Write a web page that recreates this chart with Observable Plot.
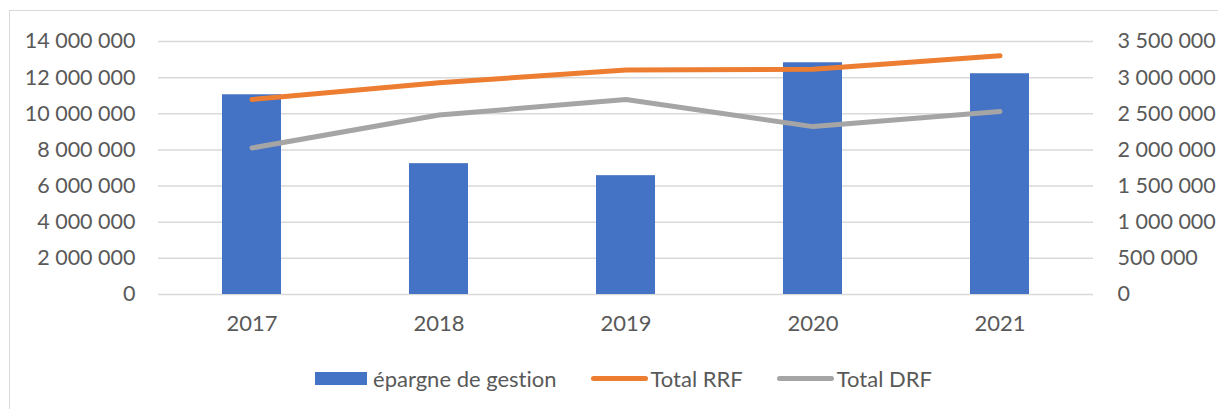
<!DOCTYPE html>
<html>
<head>
<meta charset="utf-8">
<script src="https://cdn.jsdelivr.net/npm/d3@7"></script>
<script src="https://cdn.jsdelivr.net/npm/@observablehq/plot@0.6"></script>
<style>
  html, body { margin: 0; padding: 0; background: #fff; overflow: hidden; width: 1218px; height: 409px; }
  #frame { position: absolute; left: 9px; top: 10px; width: 1400px; height: 600px; border: 1px solid #d9d9d9; pointer-events: none; }
  #chart svg { display: block; font-variant-ligatures: none; }
  #legend { display: flex; justify-content: center; align-items: center; height: 56px; padding-left: 29px; box-sizing: border-box; width: 1218px;
            font-family: Lato, "Open Sans", sans-serif; font-size: 22px; color: #595959; font-variant-ligatures: none; }
  .item { display: flex; align-items: center; margin: 0 17px; }
  .sw-bar { width: 52px; height: 13px; margin-right: 6px; }
  .sw-line { width: 57px; height: 5px; border-radius: 3px; margin-right: 3px; }
</style>
</head>
<body>
<div id="frame"></div>
<div id="chart"></div>
<div id="legend"></div>
<script>
// Data
const years = ["2017", "2018", "2019", "2020", "2021"];
const epargneGestion = [2763000, 1810000, 1644000, 3206000, 3054000]; // right axis
const totalRRF = [10790000, 11720000, 12420000, 12460000, 13210000];   // left axis
const totalDRF = [8110000, 9930000, 10790000, 9290000, 10130000];      // left axis
const leftTicks = [0, 2000000, 4000000, 6000000, 8000000, 10000000, 12000000, 14000000];
const rightTicks = [0, 500000, 1000000, 1500000, 2000000, 2500000, 3000000, 3500000];
const seriesNames = ["épargne de gestion", "Total RRF", "Total DRF"];
const colors = ["#4472C4", "#ED7D31", "#A5A5A5"];

const ratio = 14000000 / 3500000; // left axis max / right axis max
const data = years.map((y, i) => ({year: y, epargne: epargneGestion[i], rrf: totalRRF[i], drf: totalDRF[i]}));
const fmt = v => d3.format(",")(v).replace(/,/g, " ");

const chart = Plot.plot({
  width: 1218,
  height: 350,
  marginLeft: 158,
  marginRight: 125,
  marginTop: 41,
  marginBottom: 56,
  style: {fontFamily: "Lato, 'Open Sans', sans-serif", fontSize: "21.5px", color: "#595959", background: "transparent"},
  x: {domain: years, paddingInner: 0.684, paddingOuter: 0.342, label: null},
  y: {domain: [0, 14000000], label: null},
  marks: [
    Plot.gridY(leftTicks, {stroke: "#d9d9d9", strokeOpacity: 1, strokeWidth: 1.5}),
    Plot.axisY(leftTicks, {anchor: "left", tickSize: 0, tickPadding: 23, tickFormat: fmt, label: null}),
    Plot.axisY(rightTicks.map(v => v * ratio), {anchor: "right", tickSize: 0, tickPadding: 24, textAnchor: "start", tickFormat: d => fmt(Math.round(d / ratio)), label: null}),
    Plot.axisX({tickSize: 0, tickPadding: 21, fontSize: 22, label: null}),
    Plot.barY(data, {x: "year", y: d => d.epargne * ratio, fill: colors[0]}),
    Plot.line(data, {x: "year", y: "rrf", stroke: colors[1], strokeWidth: 5, strokeLinecap: "round", strokeLinejoin: "round"}),
    Plot.line(data, {x: "year", y: "drf", stroke: colors[2], strokeWidth: 5, strokeLinecap: "round", strokeLinejoin: "round"})
  ]
});
document.getElementById("chart").appendChild(chart);

const legend = document.getElementById("legend");
seriesNames.forEach((name, i) => {
  const item = document.createElement("div");
  item.className = "item";
  const sw = document.createElement("div");
  sw.className = i === 0 ? "sw-bar" : "sw-line";
  sw.style.background = colors[i];
  const label = document.createElement("span");
  label.textContent = name;
  item.appendChild(sw);
  item.appendChild(label);
  legend.appendChild(item);
});
</script>
</body>
</html>
